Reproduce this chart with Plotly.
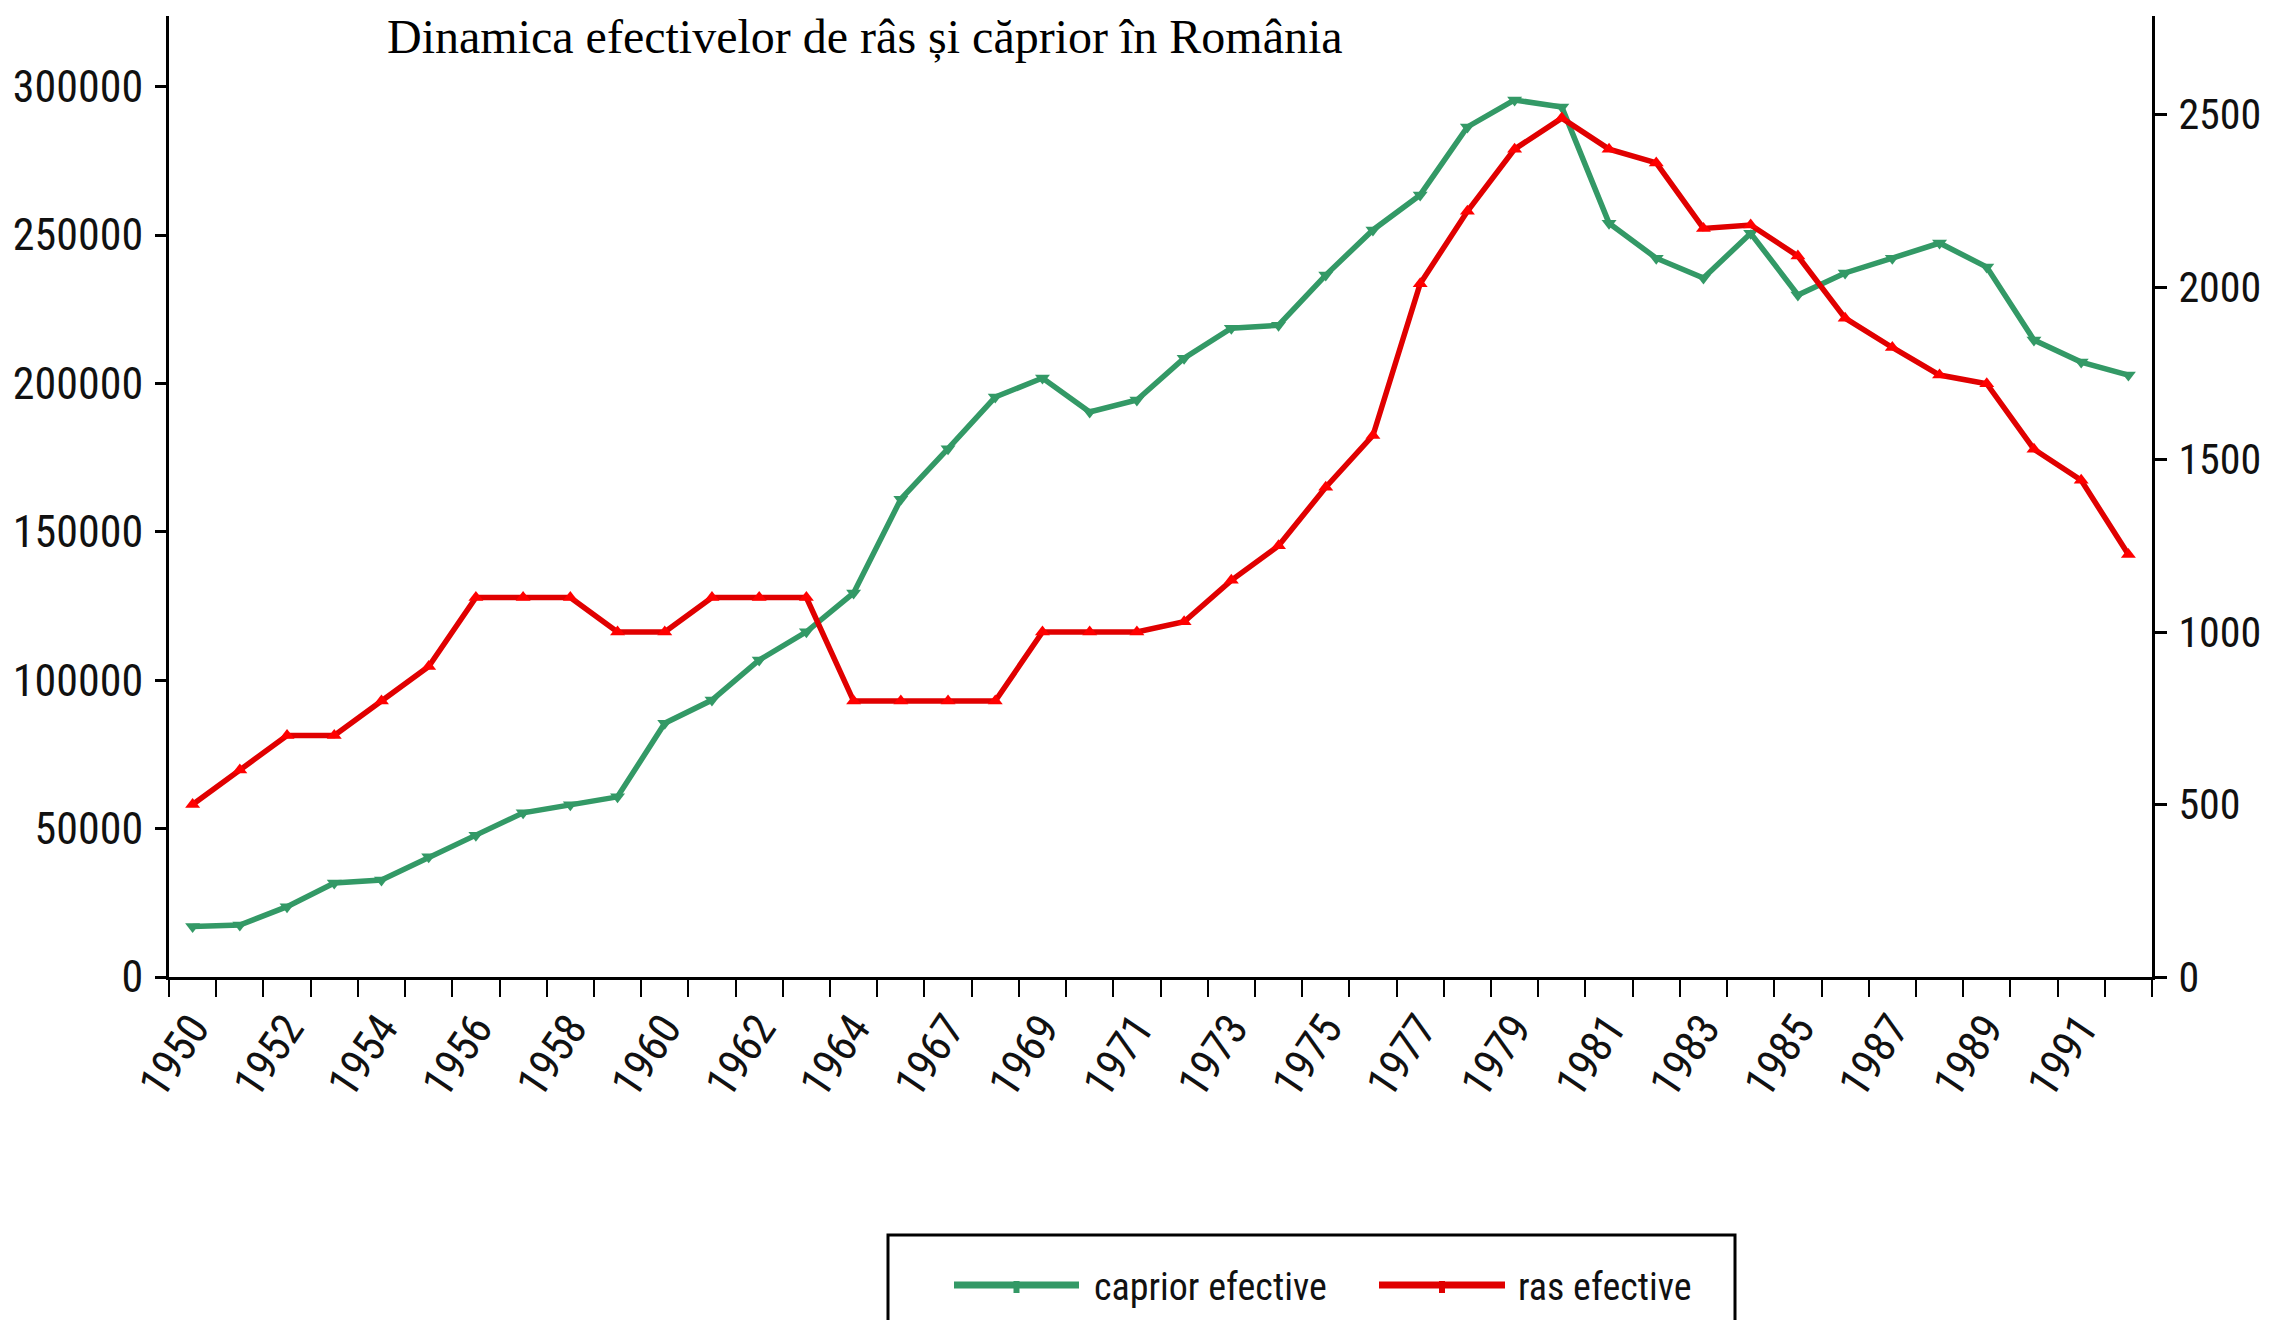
import plotly.graph_objects as go

# --- data ---
years = [str(y) for y in list(range(1950, 1966)) + list(range(1967, 1993))]

caprior_efective = [
    17000, 17500, 23700, 31700, 32700, 40500, 47800, 55300, 58000, 60700,
    85500, 93300, 106800, 116300, 129400, 161000, 178000, 195400, 201800, 190400,
    194400, 208500, 218600, 219600, 236500, 251700, 263500, 286400, 295500, 293100,
    254000, 242200, 235500, 250600, 229800, 237200, 242200, 247300, 239200, 214600,
    207200, 202800,
]

ras_efective = [
    500, 600, 700, 700, 800, 900, 1100, 1100, 1100, 1000,
    1000, 1100, 1100, 1100, 800, 800, 800, 800, 1000, 1000,
    1000, 1030, 1150, 1250, 1420, 1570, 2010, 2220, 2400, 2490,
    2400, 2360, 2170, 2180, 2090, 1910, 1825, 1745, 1720, 1530,
    1440, 1225,
]

# every other year gets a label
tick_text = [y if i % 2 == 0 else "" for i, y in enumerate(years)]

TITLE = "Dinamica efectivelor de râs și căprior în România"
LEGEND_NAMES = ["caprior efective", "ras efective"]

GREEN = "#339966"
RED = "#e00000"
AXIS_FONT = "Roboto Condensed, Liberation Sans, sans-serif"

# page body has an 8px margin, so the figure is shrunk by that much
OFF = 8
SCREEN_W, SCREEN_H = 2270, 1320
W, H = SCREEN_W - OFF, SCREEN_H - OFF
L, R, T, B = 169, 2152, 16, 977  # plot area, screen pixels


def px(x):
    return (x - L) / (R - L)


def py(y):
    return (B - y) / (B - T)


fig = go.Figure()

fig.add_trace(go.Scatter(
    x=years, y=caprior_efective, name=LEGEND_NAMES[0],
    mode="lines+markers",
    line=dict(color=GREEN, width=5.5),
    marker=dict(symbol="triangle-down", size=13, color=GREEN),
    yaxis="y",
))
fig.add_trace(go.Scatter(
    x=years, y=ras_efective, name=LEGEND_NAMES[1],
    mode="lines+markers",
    line=dict(color=RED, width=5.5),
    marker=dict(symbol="triangle-up", size=13, color="#ff0000"),
    yaxis="y2",
))

n = len(years)
tickfont = dict(family=AXIS_FONT, size=44, color="#111111")
no_grid = dict(showgrid=False, zeroline=False, automargin=False)

fig.update_layout(
    width=W, height=H,
    margin=dict(l=L - OFF, r=SCREEN_W - R, t=T - OFF, b=SCREEN_H - B),
    paper_bgcolor="white", plot_bgcolor="white",
    showlegend=False,
    xaxis=dict(
        type="category", categoryorder="array", categoryarray=years,
        range=[-0.5, n - 0.5],
        tickmode="array", tickvals=years, ticktext=tick_text,
        tickson="boundaries", ticks="outside", ticklen=17, tickwidth=2,
        tickcolor="black", tickangle=-56, tickfont=tickfont,
        ticklabelstandoff=5,
        showline=True, linecolor="black", linewidth=3,
        fixedrange=True, **no_grid,
    ),
    # inner half of the crossing x ticks
    xaxis2=dict(
        overlaying="x", anchor="y", side="bottom",
        range=[-0.5, n - 0.5], tickmode="linear", tick0=-0.5, dtick=1,
        ticks="inside", ticklen=17, tickwidth=2, tickcolor="black",
        showticklabels=False, showline=False, **no_grid,
    ),
    yaxis=dict(
        range=[0, 323790], dtick=50000, tick0=0, tickformat="d",
        ticks="outside", ticklen=11, tickwidth=3, tickcolor="black",
        tickfont=tickfont, ticklabelstandoff=3,
        showline=True, linecolor="black", linewidth=3,
        **no_grid,
    ),
    yaxis2=dict(
        overlaying="y", side="right", anchor="x",
        range=[0, 2786], dtick=500, tick0=0, tickformat="d",
        ticks="outside", ticklen=12, tickwidth=3, tickcolor="black",
        tickfont=dict(family=AXIS_FONT, size=42, color="#111111"),
        ticklabelstandoff=3,
        showline=True, linecolor="black", linewidth=3,
        **no_grid,
    ),
    # inner halves of the crossing y ticks
    yaxis3=dict(
        overlaying="y", side="left", anchor="x",
        range=[0, 323790], dtick=50000, tick0=0,
        ticks="inside", ticklen=11, tickwidth=3, tickcolor="black",
        showticklabels=False, showline=False, **no_grid,
    ),
    yaxis4=dict(
        overlaying="y", side="right", anchor="x",
        range=[0, 2786], dtick=500, tick0=0,
        ticks="inside", ticklen=12, tickwidth=3, tickcolor="black",
        showticklabels=False, showline=False, **no_grid,
    ),
)

# title
fig.add_annotation(
    text=TITLE, xref="paper", yref="paper",
    x=px(865), y=py(T - OFF), xanchor="center", yanchor="top",
    showarrow=False,
    font=dict(family="Liberation Serif, Times New Roman, serif", size=48, color="black"),
)

# hand-drawn legend box (runs off the bottom edge like the original)
fig.add_shape(
    type="rect", xref="paper", yref="paper",
    x0=px(888), x1=px(1735), y0=py(1340), y1=py(1235),
    line=dict(color="black", width=3), fillcolor="rgba(0,0,0,0)",
)
legend_items = [
    (LEGEND_NAMES[0], GREEN, 954, 1079, 1092),
    (LEGEND_NAMES[1], RED, 1379, 1505, 1516),
]
for name, color, lx0, lx1, tx in legend_items:
    fig.add_shape(
        type="line", xref="paper", yref="paper",
        x0=px(lx0), x1=px(lx1), y0=py(1285), y1=py(1285),
        line=dict(color=color, width=7),
    )
    mid = (lx0 + lx1) / 2
    fig.add_shape(
        type="rect", xref="paper", yref="paper",
        x0=px(mid - 3), x1=px(mid + 3), y0=py(1293), y1=py(1281),
        line=dict(width=0), fillcolor=color,
    )
    fig.add_annotation(
        text=name, xref="paper", yref="paper",
        x=px(tx), y=py(1287), xanchor="left", yanchor="middle",
        showarrow=False,
        font=dict(family=AXIS_FONT, size=38, color="#111111"),
    )

fig.write_html("out.html")
